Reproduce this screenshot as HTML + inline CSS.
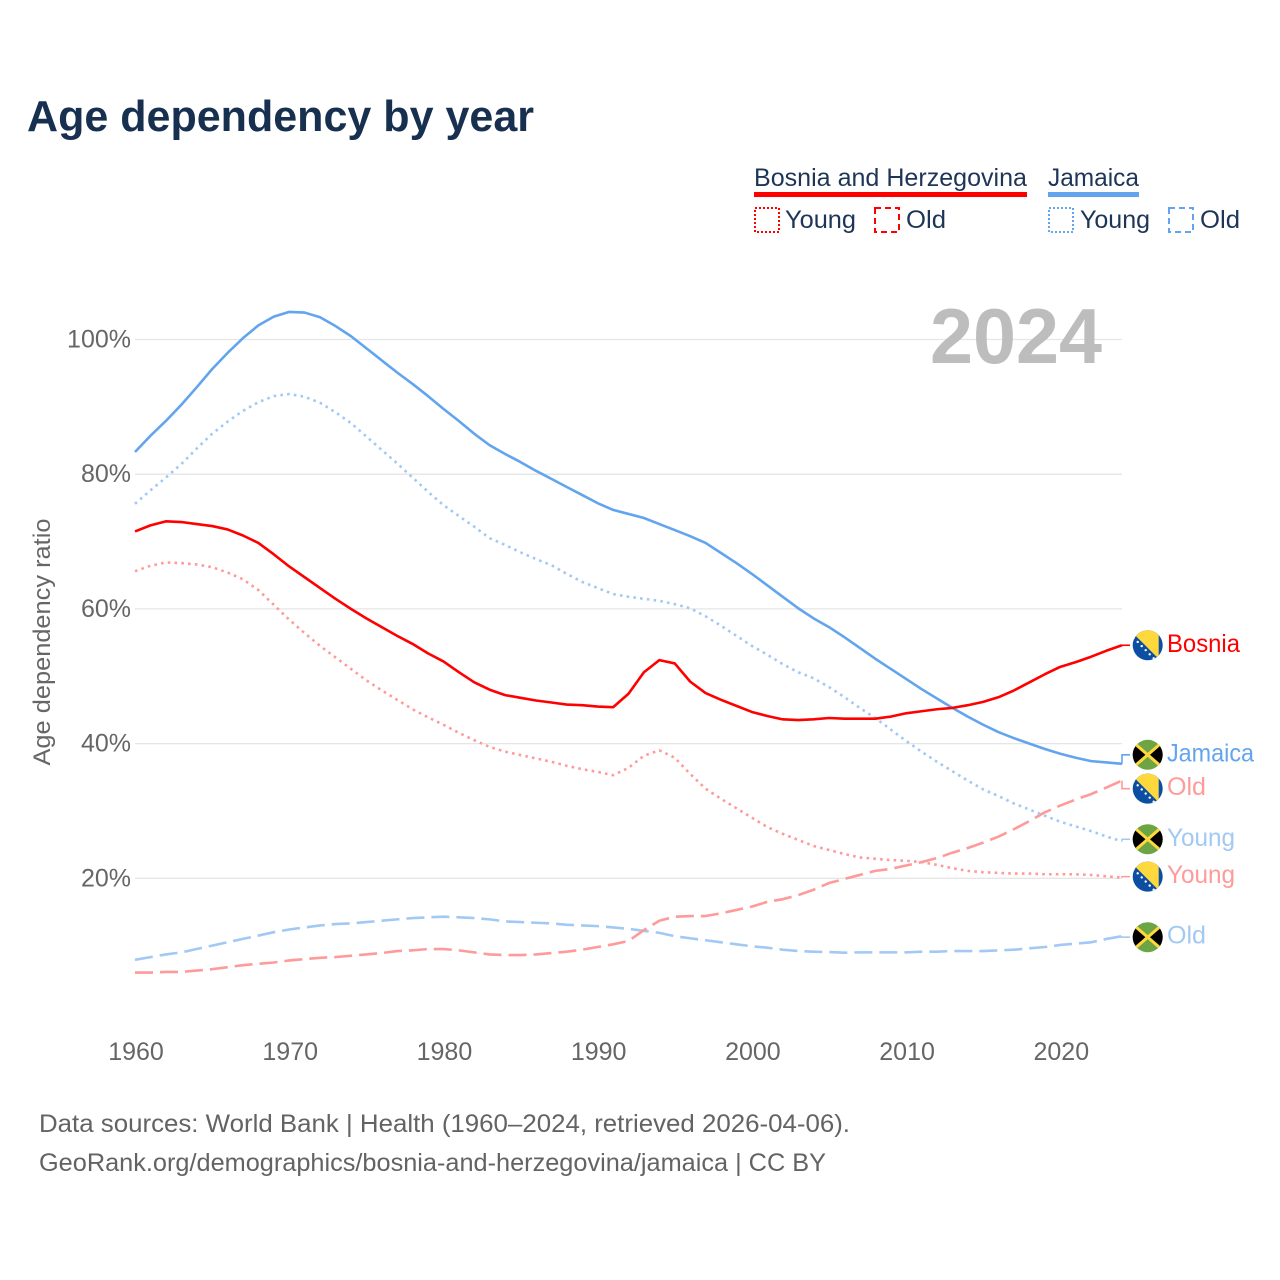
<!DOCTYPE html>
<html lang="en">
<head>
<meta charset="utf-8">
<title>Age dependency by year</title>
<style>
html,body{margin:0;padding:0;background:#fff;}
svg{display:block;}
text{font-family:"Liberation Sans",sans-serif;}
</style>
</head>
<body>
<svg id="chart" xmlns="http://www.w3.org/2000/svg" width="1280" height="1280" viewBox="0 0 1280 1280">
  <rect x="0" y="0" width="1280" height="1280" fill="#ffffff"/>
  <text x="27" y="131" font-size="44" font-weight="700" fill="#18304f" textLength="507" lengthAdjust="spacingAndGlyphs">Age dependency by year</text>

  <g>
    <text x="754" y="186" font-size="25" fill="#1d3557" textLength="273" lengthAdjust="spacingAndGlyphs">Bosnia and Herzegovina</text>
    <rect x="754" y="192" width="273" height="5" fill="#ff0000"/>
    <text x="1048" y="186" font-size="25" fill="#1d3557" textLength="91" lengthAdjust="spacingAndGlyphs">Jamaica</text>
    <rect x="1048" y="192" width="91" height="5" fill="#62a5ee"/>
    <rect x="755" y="208" width="24" height="24" fill="none" stroke="#ff0000" stroke-width="2" stroke-dasharray="2 2"/>
    <text x="785" y="228" font-size="25" fill="#1d3557" textLength="71" lengthAdjust="spacingAndGlyphs">Young</text>
    <rect x="875" y="208" width="24" height="24" fill="none" stroke="#ff0000" stroke-width="2" stroke-dasharray="6 4"/>
    <text x="906" y="228" font-size="25" fill="#1d3557" textLength="40" lengthAdjust="spacingAndGlyphs">Old</text>
    <rect x="1049" y="208" width="24" height="24" fill="none" stroke="#62a5ee" stroke-width="2" stroke-dasharray="2 2"/>
    <text x="1080" y="228" font-size="25" fill="#1d3557" textLength="70" lengthAdjust="spacingAndGlyphs">Young</text>
    <rect x="1169" y="208" width="24" height="24" fill="none" stroke="#62a5ee" stroke-width="2" stroke-dasharray="6 4"/>
    <text x="1200" y="228" font-size="25" fill="#1d3557" textLength="40" lengthAdjust="spacingAndGlyphs">Old</text>
  </g>

  <g id="grid"></g>
  <text x="930" y="363" font-size="78" font-weight="700" fill="#bdbdbd" textLength="172" lengthAdjust="spacingAndGlyphs">2024</text>
  <g id="yticks"></g>
  <g id="xticks"></g>
  <text transform="translate(50,642) rotate(-90)" text-anchor="middle" font-size="24" fill="#666666" textLength="247" lengthAdjust="spacingAndGlyphs">Age dependency ratio</text>
  <g id="series"></g>
  <g id="labels"></g>

  <text x="39" y="1132" font-size="25" fill="#636363" textLength="811" lengthAdjust="spacingAndGlyphs">Data sources: World Bank | Health (1960–2024, retrieved 2026-04-06).</text>
  <text x="39" y="1171" font-size="25" fill="#636363" textLength="787" lengthAdjust="spacingAndGlyphs">GeoRank.org/demographics/bosnia-and-herzegovina/jamaica | CC BY</text>
</svg>

<script>
var firstYear = 1960;
var lastYear = 2024;
var xTickYears = [1960, 1970, 1980, 1990, 2000, 2010, 2020];
var yTickValues = [20, 40, 60, 80, 100];

var jamaicaTotal = [
  83.3,85.7,87.9,90.3,92.9,95.6,98.0,100.2,102.1,103.4,
  104.1,104.0,103.3,102.0,100.5,98.7,96.9,95.1,93.4,91.6,
  89.7,87.9,86.0,84.3,83.0,81.8,80.5,79.3,78.1,76.9,
  75.7,74.7,74.1,73.5,72.6,71.7,70.8,69.8,68.3,66.8,
  65.2,63.5,61.8,60.1,58.6,57.3,55.8,54.2,52.6,51.1,
  49.6,48.1,46.7,45.3,44.0,42.8,41.7,40.8,40.0,39.2,
  38.5,37.9,37.4,37.2,37.0
];
var jamaicaYoung = [
  75.6,77.6,79.5,81.5,83.8,86.0,87.8,89.4,90.7,91.6,
  91.9,91.5,90.6,89.2,87.6,85.6,83.6,81.6,79.5,77.4,
  75.4,73.8,72.2,70.5,69.5,68.4,67.4,66.5,65.2,64.0,
  63.1,62.2,61.8,61.5,61.2,60.7,60.1,58.9,57.5,56.0,
  54.5,53.2,51.8,50.6,49.7,48.4,46.9,45.3,43.8,42.1,
  40.4,38.8,37.3,35.9,34.5,33.2,32.2,31.1,30.2,29.3,
  28.4,27.7,27.0,26.2,25.5
];
var jamaicaOld = [
  7.9,8.3,8.7,9.0,9.5,10.0,10.5,11.0,11.5,12.0,
  12.4,12.7,13.0,13.2,13.3,13.5,13.7,13.9,14.1,14.2,
  14.3,14.2,14.1,13.9,13.6,13.5,13.4,13.3,13.1,13.0,
  12.9,12.7,12.5,12.2,11.9,11.4,11.1,10.8,10.5,10.2,
  9.9,9.7,9.4,9.2,9.1,9.05,8.95,9.0,9.0,9.0,
  9.0,9.1,9.1,9.2,9.2,9.2,9.3,9.4,9.6,9.8,
  10.1,10.3,10.5,11.0,11.4
];
var bosniaTotal = [
  71.5,72.4,73.0,72.9,72.6,72.3,71.8,70.9,69.8,68.1,
  66.3,64.7,63.1,61.5,60.0,58.6,57.3,56.0,54.8,53.4,
  52.2,50.6,49.1,48.0,47.2,46.8,46.4,46.1,45.8,45.7,
  45.5,45.4,47.4,50.6,52.4,51.9,49.2,47.5,46.5,45.6,
  44.7,44.1,43.6,43.5,43.6,43.8,43.7,43.7,43.7,44.0,
  44.5,44.8,45.1,45.3,45.7,46.2,46.9,47.9,49.1,50.3,
  51.4,52.1,52.9,53.8,54.6
];
var bosniaYoung = [
  65.6,66.4,66.9,66.8,66.6,66.2,65.4,64.4,62.8,60.6,
  58.4,56.4,54.5,52.8,51.1,49.4,47.9,46.5,45.1,43.9,
  42.8,41.6,40.5,39.5,38.8,38.3,37.8,37.3,36.7,36.2,
  35.8,35.3,36.4,38.2,39.0,37.9,35.5,33.3,31.8,30.4,
  29.0,27.6,26.6,25.7,24.8,24.2,23.6,23.1,22.9,22.7,
  22.6,22.4,22.0,21.5,21.1,20.9,20.8,20.7,20.7,20.6,
  20.6,20.6,20.5,20.3,20.1
];
var bosniaOld = [
  6.0,6.0,6.1,6.1,6.3,6.5,6.8,7.1,7.3,7.5,
  7.8,8.0,8.2,8.3,8.5,8.7,8.9,9.2,9.3,9.5,
  9.5,9.3,9.0,8.7,8.6,8.6,8.7,8.9,9.1,9.4,
  9.8,10.2,10.7,12.3,13.7,14.3,14.4,14.4,14.8,15.3,
  15.8,16.5,16.9,17.5,18.3,19.3,19.9,20.5,21.1,21.4,
  21.9,22.4,23.0,23.8,24.5,25.3,26.2,27.3,28.5,29.8,
  30.8,31.7,32.5,33.5,34.5
];

var NS = 'http://www.w3.org/2000/svg';
function xScale(year){ return 135 + (year - firstYear) * (1122 - 135) / (lastYear - firstYear); }
function yScale(v){ return 1013 - v * 6.735; }
function make(tag, attrs, parent){
  var el = document.createElementNS(NS, tag);
  for (var k in attrs) el.setAttribute(k, attrs[k]);
  parent.appendChild(el);
  return el;
}
var gridG = document.getElementById('grid');
var yG = document.getElementById('yticks');
var xG = document.getElementById('xticks');
var seriesG = document.getElementById('series');
var labelsG = document.getElementById('labels');

yTickValues.forEach(function(v){
  var line = make('line', {x1:135, x2:1122, y1:yScale(v), y2:yScale(v), stroke:'#e6e6e6', 'stroke-width':1.3}, gridG);
  
  
  var t = make('text', {x:131, y:yScale(v)+8, 'text-anchor':'end', 'font-size':25, fill:'#666666'}, yG);
  
  
  t.textContent = v + '%';
});
xTickYears.forEach(function(yr){
  var t = make('text', {x:xScale(yr)+1, y:1060, 'text-anchor':'middle', 'font-size':25, fill:'#666666'}, xG);
  
  
  t.textContent = yr;
});

function drawSeries(name, values, color, dash, width){
  var d = values.map(function(v,i){
    return (i ? 'L' : 'M') + xScale(firstYear + i).toFixed(2) + ' ' + yScale(v).toFixed(2);
  }).join(' ');
  var attrs = {d:d, fill:'none', stroke:color, 'stroke-width':width, 'stroke-linejoin':'round'};
  if (dash) attrs['stroke-dasharray'] = dash;
  var p = make('path', attrs, seriesG);
  
  
}

var BLUE = '#62a5ee', RED = '#ff0000', LBLUE = '#a1c9f4', LRED = '#ff9a9a';
var DOT = '2.6 4.2', DASH = '18 7';

drawSeries('line-jamaica-old', jamaicaOld, LBLUE, DASH, 2.6);
drawSeries('line-bosnia-old', bosniaOld, LRED, DASH, 2.6);
drawSeries('line-jamaica-young', jamaicaYoung, LBLUE, DOT, 2.6);
drawSeries('line-bosnia-young', bosniaYoung, LRED, DOT, 2.6);
drawSeries('line-jamaica-total', jamaicaTotal, BLUE, null, 2.6);
drawSeries('line-bosnia-total', bosniaTotal, RED, null, 2.6);

function bosniaFlag(g, cx, cy, id){
  var clip = make('clipPath', {id:id}, g);
  make('circle', {cx:cx, cy:cy, r:15}, clip);
  var f = make('g', {'clip-path':'url(#'+id+')'}, g);
  make('rect', {x:cx-16, y:cy-16, width:32, height:32, fill:'#0b4ea2'}, f);
  make('polygon', {points:[cx-20,cy-17.4, cx+11,cy-18, cx+11,cy+13.6].join(' '), fill:'#ffd83d'}, f);
  for (var i = -1; i < 5; i++) {
    make('circle', {cx:cx-10+i*4, cy:cy-3.3+i*4.1, r:1.2, fill:'#ffffff'}, f);
  }
}
function jamaicaFlag(g, cx, cy, id){
  var clip = make('clipPath', {id:id}, g);
  make('circle', {cx:cx, cy:cy, r:15}, clip);
  var f = make('g', {'clip-path':'url(#'+id+')'}, g);
  make('rect', {x:cx-16, y:cy-16, width:32, height:32, fill:'#6da544'}, f);
  make('polygon', {points:[cx-16,cy-14, cx,cy, cx-16,cy+14].join(' '), fill:'#000000'}, f);
  make('polygon', {points:[cx+16,cy-14, cx,cy, cx+16,cy+14].join(' '), fill:'#000000'}, f);
  make('line', {x1:cx-15, y1:cy-13, x2:cx+15, y2:cy+13, stroke:'#ffd83d', 'stroke-width':3}, f);
  make('line', {x1:cx-15, y1:cy+13, x2:cx+15, y2:cy-13, stroke:'#ffd83d', 'stroke-width':3}, f);
}

function endLabel(name, text, values, offset, color, flagFn, textW){
  var yEnd = yScale(values[values.length-1]);
  var yF = yEnd + offset;
  var leader = make('path', {d:'M1122 '+yEnd.toFixed(2)+' L1122 '+yF.toFixed(2)+' L1130 '+yF.toFixed(2), fill:'none', stroke:color, 'stroke-width':1.6}, labelsG);
  
  
  var flagG = make('g', {}, labelsG);
  
  
  flagFn(flagG, 1147.7, yF, name + '-clip');
  var t = make('text', {x:1167, y:yF+6.5, 'font-size':25, fill:color, textLength:textW, lengthAdjust:'spacingAndGlyphs'}, labelsG);
  
  
  t.textContent = text;
}
endLabel('end-bosnia', 'Bosnia', bosniaTotal, 0, RED, bosniaFlag, 73);
endLabel('end-jamaica', 'Jamaica', jamaicaTotal, -9, BLUE, jamaicaFlag, 87);
endLabel('end-bosnia-old', 'Old', bosniaOld, 8, LRED, bosniaFlag, 39);
endLabel('end-jamaica-young', 'Young', jamaicaYoung, -2, LBLUE, jamaicaFlag, 68);
endLabel('end-bosnia-young', 'Young', bosniaYoung, -1, LRED, bosniaFlag, 68);
endLabel('end-jamaica-old', 'Old', jamaicaOld, 1, LBLUE, jamaicaFlag, 39);
</script>
</body>
</html>
